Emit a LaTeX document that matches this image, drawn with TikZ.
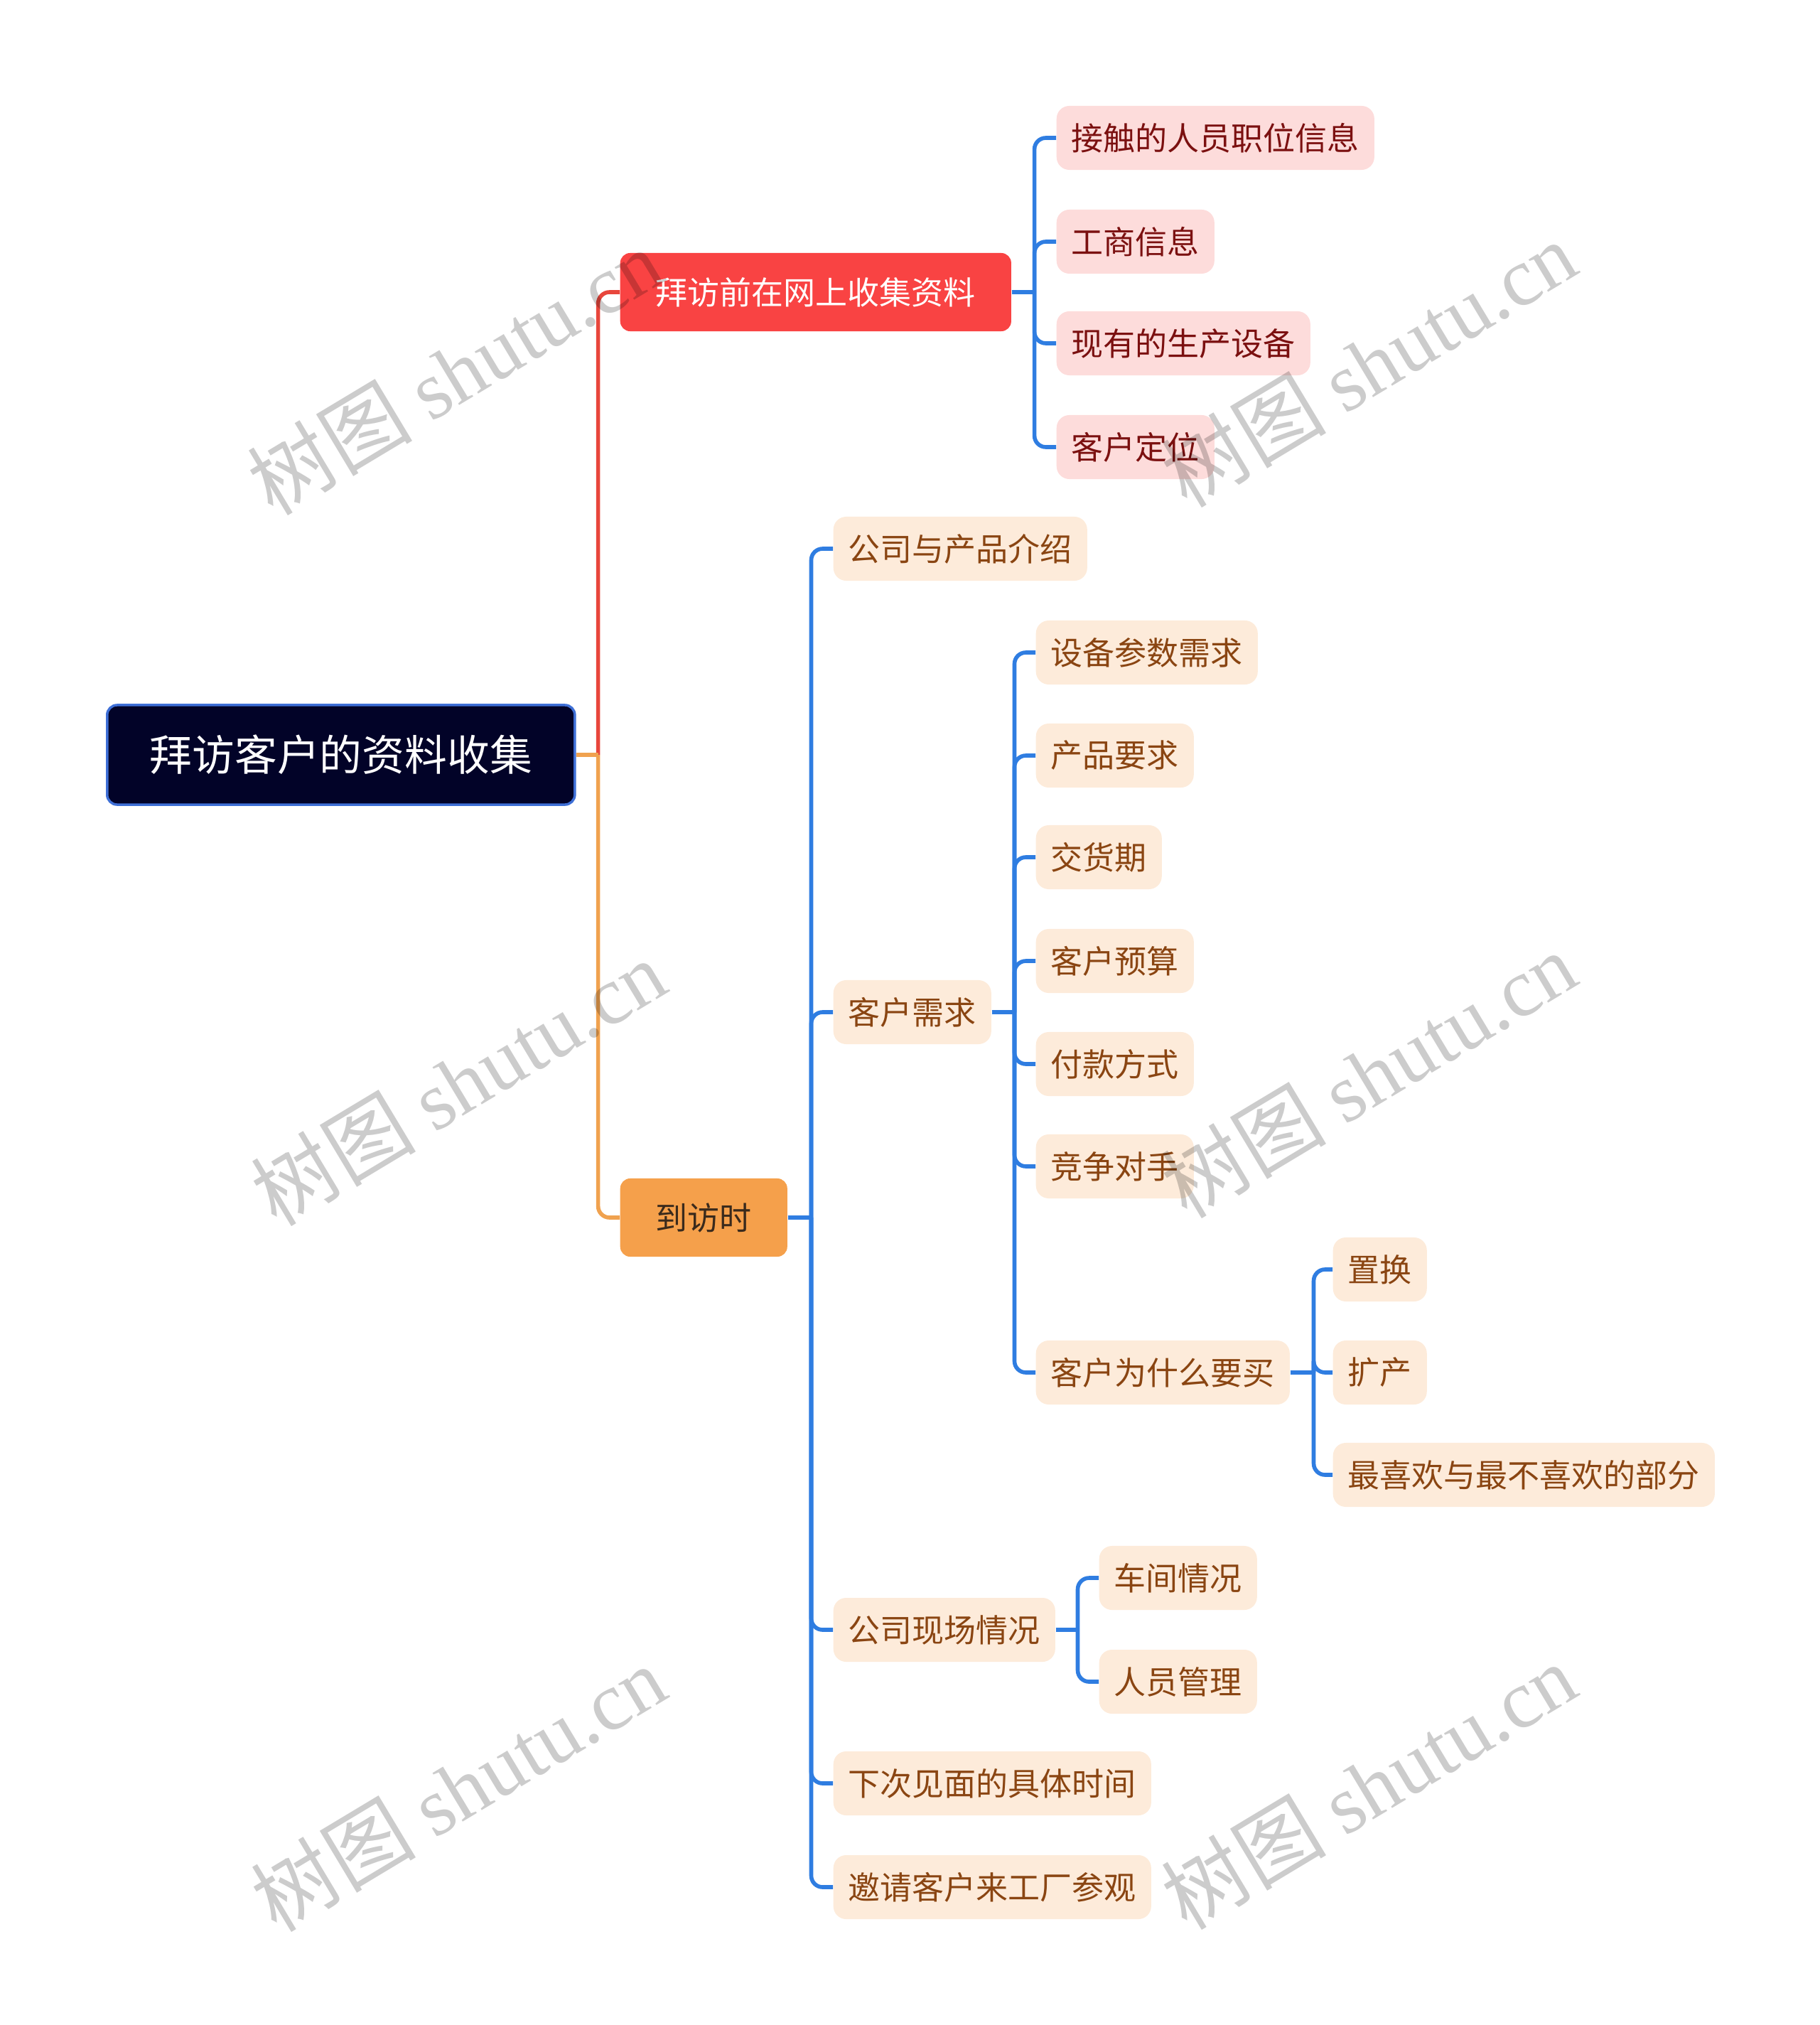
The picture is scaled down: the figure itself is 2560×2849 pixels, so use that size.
\documentclass[tikz,border=0pt]{standalone}
\usepackage{fontspec}
\setmainfont{Noto Sans CJK SC}
\newfontfamily\wmlatin{Liberation Serif}
\usetikzlibrary{calc}
\definecolor{rootfill}{HTML}{020328}
\definecolor{rootborder}{HTML}{3E6FD6}
\definecolor{redfill}{HTML}{F94343}
\definecolor{orangefill}{HTML}{F5A04B}
\definecolor{pinkfill}{HTML}{FDDCDB}
\definecolor{pinktext}{HTML}{7B1010}
\definecolor{peachfill}{HTML}{FDEBDA}
\definecolor{peachtext}{HTML}{8A4512}
\definecolor{bluelink}{HTML}{2F7DE1}
\definecolor{redlink}{HTML}{E8463C}
\definecolor{orangelink}{HTML}{F0A24F}
\definecolor{darkbrown}{HTML}{3A2A1C}
\begin{document}
\begin{tikzpicture}[x=0.01cm,y=-0.01cm,
  rootbox/.style={draw=rootborder, line width=1pt, fill=rootfill, text=white,
    rounded corners=0.14cm, minimum height=1.4cm, inner xsep=0.6cm, inner ysep=0pt,
    font=\fontsize{17pt}{20pt}\selectfont, anchor=west},
  branchbox/.style={rounded corners=0.14cm, minimum height=1.1cm, inner xsep=0.5cm, inner ysep=0pt,
    font=\fontsize{12.8pt}{15pt}\selectfont, anchor=west},
  redbox/.style={branchbox, fill=redfill, text=white},
  orangebox/.style={branchbox, fill=orangefill, text=darkbrown},
  leafbox/.style={rounded corners=0.18cm, minimum height=0.9cm, inner xsep=0.21cm, inner ysep=0pt,
    font=\fontsize{12.8pt}{15pt}\selectfont, anchor=west},
  pinkbox/.style={leafbox, fill=pinkfill, text=pinktext},
  peachbox/.style={leafbox, fill=peachfill, text=peachtext},
  link/.style={line width=1.6pt, rounded corners=0.16cm},
  bluelk/.style={link, draw=bluelink},
  wm/.style={text=black, opacity=0.2, rotate=31, font=\fontsize{33pt}{36pt}\selectfont}
]
\useasboundingbox (0,0) rectangle (2560,2849);

% root and branches
\node[rootbox] (root) at (149,1062) {拜访客户的资料收集};
\node[redbox] (b1) at (872,411) {拜访前在网上收集资料};
\node[orangebox] (b2) at (872,1713) {到访时};

% branch 1 leaves
\node[pinkbox] (p1) at (1486,194) {接触的人员职位信息};
\node[pinkbox] (p2) at (1486,340) {工商信息};
\node[pinkbox] (p3) at (1486,483) {现有的生产设备};
\node[pinkbox] (p4) at (1486,629) {客户定位};

% branch 2 children
\node[peachbox] (c1) at (1172,772) {公司与产品介绍};
\node[peachbox] (c2) at (1172,1424) {客户需求};
\node[peachbox] (c3) at (1172,2293) {公司现场情况};
\node[peachbox] (c4) at (1172,2509) {下次见面的具体时间};
\node[peachbox] (c5) at (1172,2655) {邀请客户来工厂参观};

% 客户需求 children
\node[peachbox] (d1) at (1457,918) {设备参数需求};
\node[peachbox] (d2) at (1457,1063) {产品要求};
\node[peachbox] (d3) at (1457,1206) {交货期};
\node[peachbox] (d4) at (1457,1352) {客户预算};
\node[peachbox] (d5) at (1457,1497) {付款方式};
\node[peachbox] (d6) at (1457,1641) {竞争对手};
\node[peachbox] (d7) at (1457,1931) {客户为什么要买};

% 客户为什么要买 children
\node[peachbox] (e1) at (1875,1786) {置换};
\node[peachbox] (e2) at (1875,1931) {扩产};
\node[peachbox] (e3) at (1875,2075) {最喜欢与最不喜欢的部分};

% 公司现场情况 children
\node[peachbox] (f1) at (1546,2220) {车间情况};
\node[peachbox] (f2) at (1546,2366) {人员管理};

% junction coordinates
\coordinate (rj) at ($(root.east)+(31,0)$);
\coordinate (j1) at ($(b1.east)+(32,0)$);
\coordinate (j2) at ($(b2.east)+(33,0)$);
\coordinate (j3) at ($(c2.east)+(32,0)$);
\coordinate (j4) at ($(d7.east)+(33,0)$);
\coordinate (j5) at ($(c3.east)+(31,0)$);

% root connectors
\draw[link, draw=redlink] (rj) |- (b1.west);
\draw[link, draw=orangelink] (rj) |- (b2.west);
\draw[link, draw=orangelink] (root.east) -- (rj);

% branch 1
\draw[bluelk] (b1.east) -- (j1);
\foreach \n in {p1,p2,p3,p4} \draw[bluelk] (j1) |- (\n.west);

% branch 2
\draw[bluelk] (b2.east) -- (j2);
\foreach \n in {c1,c2,c3,c4,c5} \draw[bluelk] (j2) |- (\n.west);

% 客户需求
\draw[bluelk] (c2.east) -- (j3);
\foreach \n in {d1,d2,d3,d4,d5,d6,d7} \draw[bluelk] (j3) |- (\n.west);

% 客户为什么要买
\draw[bluelk] (d7.east) -- (j4);
\foreach \n in {e1,e2,e3} \draw[bluelk] (j4) |- (\n.west);

% 公司现场情况
\draw[bluelk] (c3.east) -- (j5);
\foreach \n in {f1,f2} \draw[bluelk] (j5) |- (\n.west);

% watermarks
\node[wm] (w1) at (640,523) {树图 {\wmlatin shutu.cn}};
\node[wm] (w2) at (1926,512) {树图 {\wmlatin shutu.cn}};
\node[wm] (w3) at (645,1523) {树图 {\wmlatin shutu.cn}};
\node[wm] (w4) at (1926,1512) {树图 {\wmlatin shutu.cn}};
\node[wm] (w5) at (645,2516) {树图 {\wmlatin shutu.cn}};
\node[wm] (w6) at (1926,2513) {树图 {\wmlatin shutu.cn}};
\end{tikzpicture}
\end{document}
